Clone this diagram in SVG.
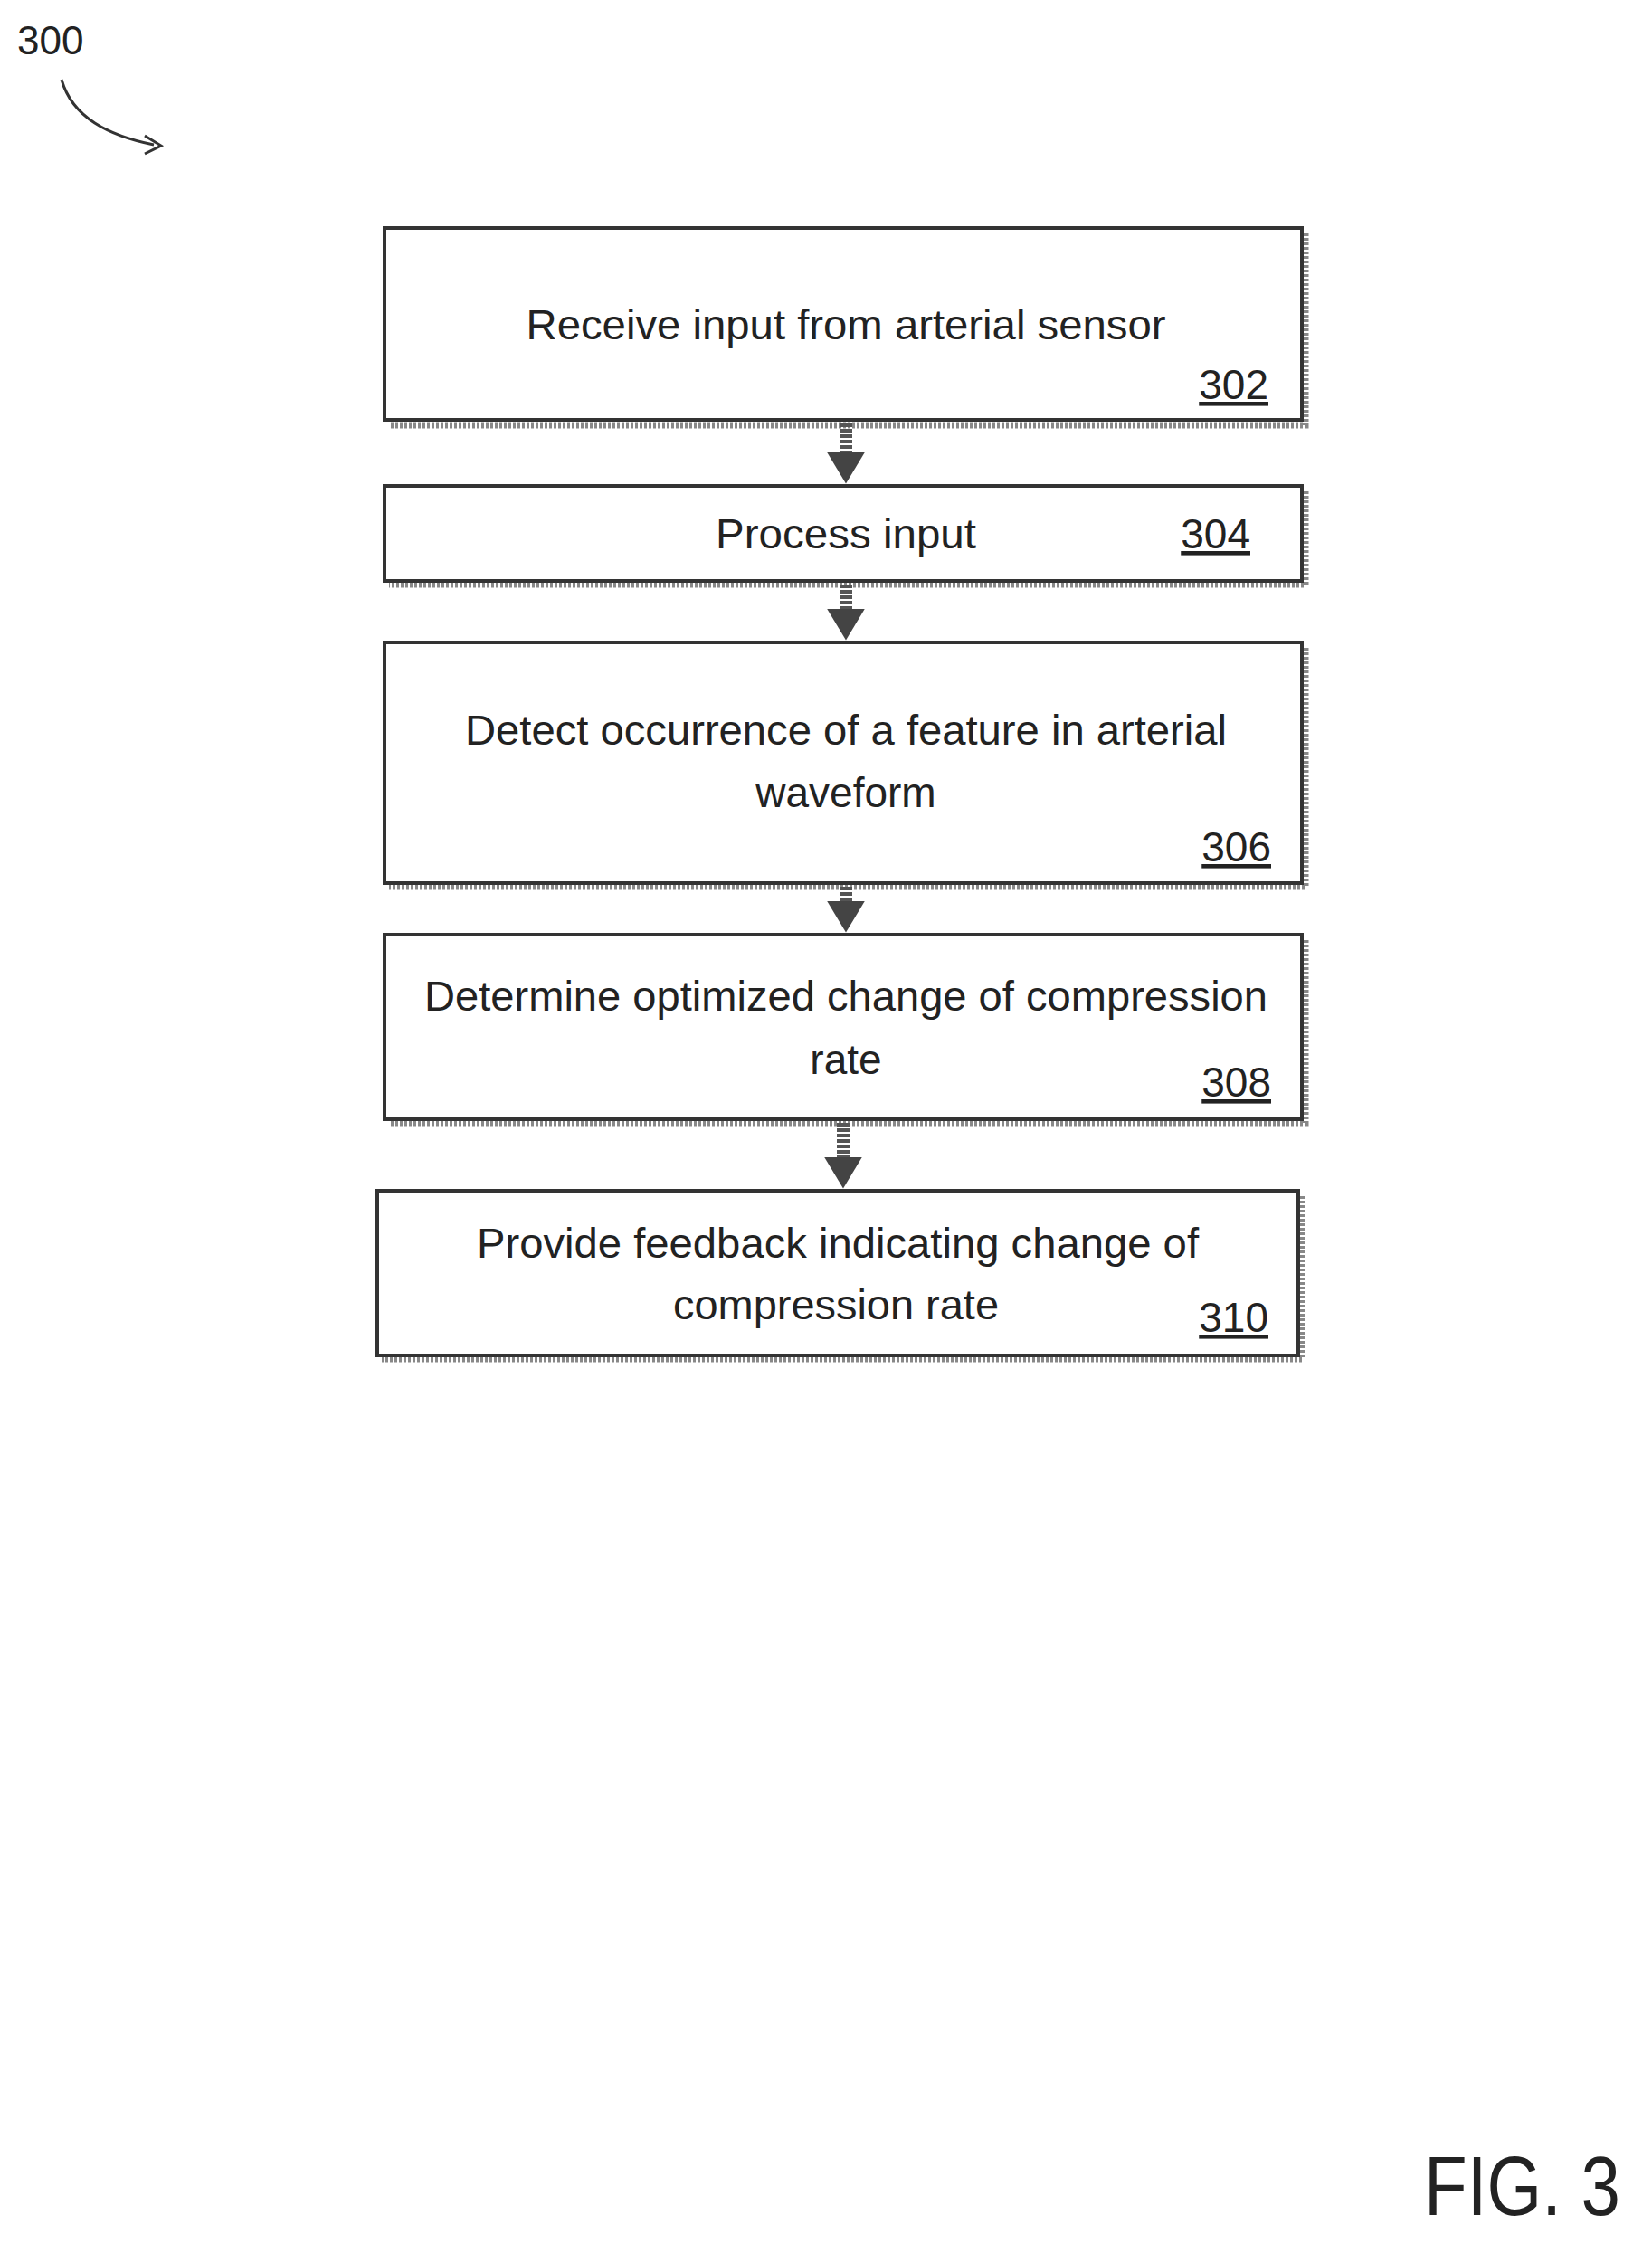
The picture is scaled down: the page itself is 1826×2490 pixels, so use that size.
<svg xmlns="http://www.w3.org/2000/svg" width="1826" height="2490" viewBox="0 0 1826 2490">
<style>
text{font-family:"Liberation Sans",Arial,sans-serif;fill:#222;font-size:46px}
.m{text-anchor:middle}
.r{text-anchor:end;text-decoration:underline}
.box{fill:#fff;stroke:#333;stroke-width:4}
.sh{fill:none;stroke:#888;stroke-width:7;stroke-dasharray:3 2}
.con{stroke:#555;stroke-width:14;fill:none;stroke-dasharray:4 2}
</style>
<defs>
<marker id="ah" markerWidth="3" markerHeight="3.2" refX="0.6" refY="1.5" orient="auto" markerUnits="strokeWidth"><path d="M0,0 L2.5,1.5 L0,3 Z" fill="#444"/></marker>
</defs>
<text x="19" y="60" style="font-size:44px">300</text>
<path d="M68,88 C80,130 120,150 170,160" fill="none" stroke="#333" stroke-width="3"/>
<path d="M160,150 L178,161 L160,170" fill="none" stroke="#333" stroke-width="3"/>
<g id="n302"><path class="sh" d="M1443,258 V470 H430"/><rect class="box" x="425" y="252" width="1014" height="212"/>
<text class="m" x="935" y="375" textLength="707" lengthAdjust="spacingAndGlyphs">Receive input from arterial sensor</text>
<text class="r" x="1402" y="441">302</text></g>
<g id="n304"><path class="sh" d="M1443,543 V646 H430"/><rect class="box" x="425" y="537" width="1014" height="105"/>
<text class="m" x="935" y="606" textLength="288" lengthAdjust="spacingAndGlyphs">Process input</text>
<text class="r" x="1382" y="606">304</text></g>
<g id="n306"><path class="sh" d="M1443,716 V980 H430"/><rect class="box" x="425" y="710" width="1014" height="266"/>
<text class="m" x="935" y="823" textLength="842" lengthAdjust="spacingAndGlyphs">Detect occurrence of a feature in arterial</text>
<text class="m" x="935" y="892">waveform</text>
<text class="r" x="1405" y="952">306</text></g>
<g id="n308"><path class="sh" d="M1443,1039 V1241 H430"/><rect class="box" x="425" y="1033" width="1014" height="204"/>
<text class="m" x="935" y="1117" textLength="932" lengthAdjust="spacingAndGlyphs">Determine optimized change of compression</text>
<text class="m" x="935" y="1187">rate</text>
<text class="r" x="1405" y="1212">308</text></g>
<g id="n310"><path class="sh" d="M1439,1322 V1502 H422"/><rect class="box" x="417" y="1316" width="1018" height="182"/>
<text class="m" x="926" y="1390" textLength="798" lengthAdjust="spacingAndGlyphs">Provide feedback indicating change of</text>
<text class="m" x="924" y="1458" textLength="360" lengthAdjust="spacingAndGlyphs">compression rate</text>
<text class="r" x="1402" y="1472">310</text></g>
<g id="connectors">
<line class="con" x1="935" y1="468" x2="935" y2="508" marker-end="url(#ah)"/>
<line class="con" x1="935" y1="646" x2="935" y2="681" marker-end="url(#ah)"/>
<line class="con" x1="935" y1="980" x2="935" y2="1004" marker-end="url(#ah)"/>
<line class="con" x1="932" y1="1241" x2="932" y2="1287" marker-end="url(#ah)"/>
</g>
<text x="1574" y="2448" style="font-size:92px" textLength="217" lengthAdjust="spacingAndGlyphs">FIG. 3</text>
</svg>
